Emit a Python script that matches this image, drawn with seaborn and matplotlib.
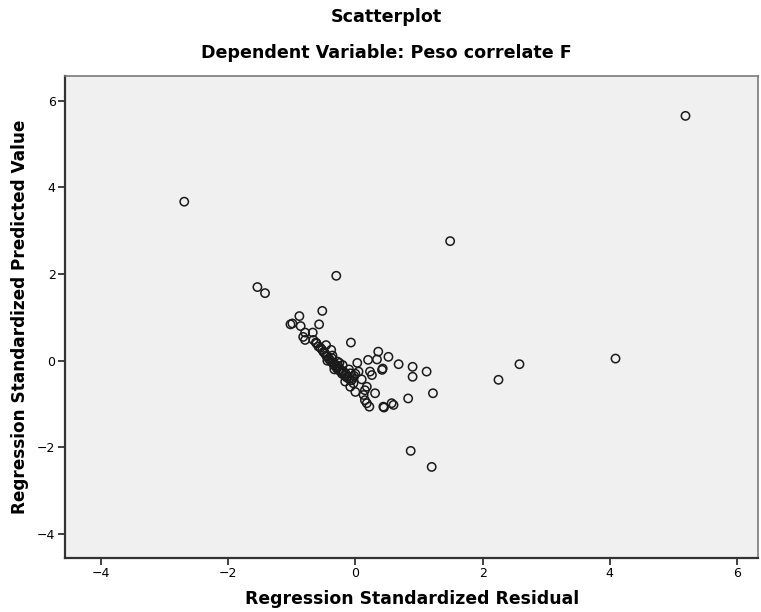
import matplotlib
matplotlib.use("Agg")
import matplotlib.pyplot as plt
import seaborn as sns
import pandas as pd

# Regression Standardized Residual (x) and Predicted Value (y)
residual = [
    5.19, -2.69, 1.49, -0.30, -1.54, -1.42, 4.09, 2.58, 2.25, 0.87, 1.20,
    1.22, 0.83, 0.45, 0.60, 0.57, 0.52, 0.68, 0.90, 0.90, 1.12, 0.43, 0.36,
    0.34, 0.20, 0.03, -0.07, 0.23, 0.26, 0.10, -0.03, -0.08, 0.18, 0.15,
    0.31, 0.13, 0.15, 0.18, 0.22, 0.44, 0.00, -0.16, -0.08, -0.06, 0.42,
    -0.52, -0.88, -0.99, -0.86, -0.57, -0.79, -0.67, -0.82, -0.79, -0.66,
    -0.61, -0.46, -0.38, -1.02,
    -0.62, -0.58, -0.55, -0.52, -0.50, -0.48, -0.46, -0.44, -0.42, -0.40,
    -0.38, -0.37, -0.35, -0.34, -0.32, -0.30, -0.29, -0.27, -0.26, -0.24,
    -0.22, -0.21, -0.19, -0.17, -0.15, -0.14, -0.12, -0.10, -0.05, -0.02,
    0.00, -0.44, -0.33, -0.28, -0.20, -0.36, -0.25, -0.10, 0.05,
]
predicted = [
    5.65, 3.67, 2.76, 1.96, 1.70, 1.56, 0.05, -0.08, -0.44, -2.08, -2.45,
    -0.75, -0.87, -1.08, -1.02, -0.98, 0.09, -0.08, -0.14, -0.37, -0.25, -0.18, 0.21,
    0.03, 0.02, -0.05, 0.42, -0.25, -0.33, -0.43, -0.52, -0.60, -0.60, -0.68,
    -0.75, -0.79, -0.91, -0.98, -1.06, -1.06, -0.72, -0.48, -0.29, -0.45, -0.21,
    1.15, 1.03, 0.86, 0.80, 0.84, 0.65, 0.65, 0.55, 0.48, 0.48,
    0.40, 0.36, 0.25, 0.84,
    0.42, 0.33, 0.30, 0.25, 0.20, 0.18, 0.12, 0.10, 0.05, 0.02,
    -0.02, 0.06, -0.05, -0.10, -0.08, -0.14, -0.18, -0.12, -0.22, -0.20,
    -0.26, -0.30, -0.24, -0.34, -0.30, -0.38, -0.36, -0.42, -0.40, -0.35,
    -0.30, 0.00, -0.20, -0.02, -0.10, 0.12, -0.05, -0.20, -0.25,
]
ticks = [-4, -2, 0, 2, 4, 6]
tick_labels = ["\u22124", "\u22122", "0", "2", "4", "6"]

df = pd.DataFrame({"resid": residual, "pred": predicted})

sns.set_style("white")
plt.rcParams["font.family"] = ["DejaVu Sans"]
plt.rcParams["text.color"] = "black"

fig = plt.figure(figsize=(7.61, 6.12), dpi=100)
ax = fig.add_axes([65.3 / 761, 1 - 557.5 / 612, (758 - 65.3) / 761, (557.5 - 76) / 612])
ax.set_facecolor("#f0f0f0")

sns.scatterplot(data=df, x="resid", y="pred", ax=ax, marker="o", s=36,
                facecolors="none", edgecolor="#1a1a1a", linewidth=1.1, legend=False)

ax.set_xlim(-4.56, 6.33)
ax.set_ylim(-4.54, 6.57)
ax.set_xticks(ticks)
ax.set_xticklabels(tick_labels)
ax.set_yticks(ticks)
ax.set_yticklabels(tick_labels)
ax.tick_params(axis="both", which="both", direction="out", length=5, width=1.3,
               color="#333333", labelcolor="black", labelsize=9, pad=2,
               bottom=True, left=True)

for side in ["left", "bottom"]:
    ax.spines[side].set_color("#333333")
    ax.spines[side].set_linewidth(1.6)
for side in ["top", "right"]:
    ax.spines[side].set_color("#7a7a7a")
    ax.spines[side].set_linewidth(1.2)

ax.set_xlabel("Regression Standardized Residual", fontsize=12.4, fontweight="bold",
              color="black", labelpad=7)
ax.set_ylabel("Regression Standardized Predicted Value", fontsize=12.2, fontweight="bold",
              color="black", labelpad=6)

fig.text(386 / 761, 1 - 17 / 612, "Scatterplot", ha="center", va="center",
         fontsize=12.6, fontweight="bold", color="black")
fig.text(386 / 761, 1 - 53 / 612, "Dependent Variable: Peso correlate F", ha="center",
         va="center", fontsize=12.6, fontweight="bold", color="black")

fig.savefig("out.png", dpi=100)
